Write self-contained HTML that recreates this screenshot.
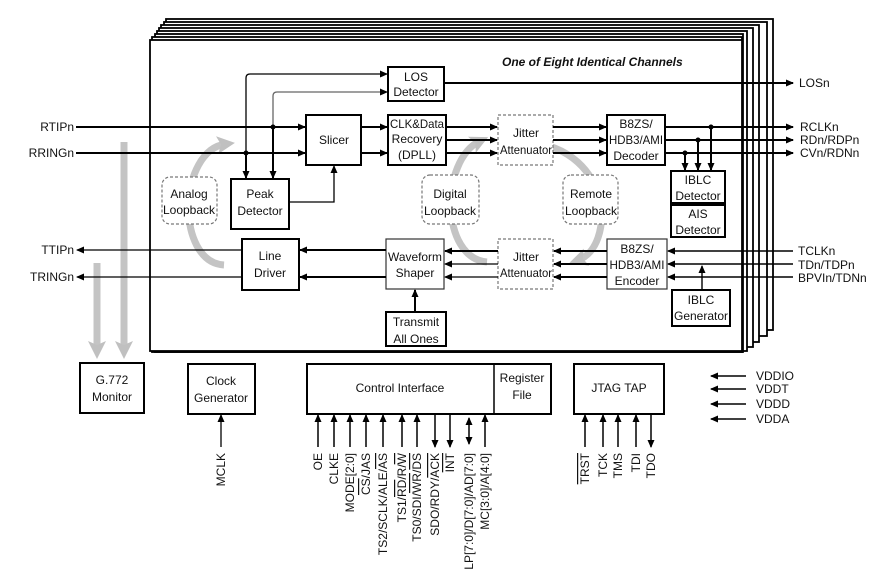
<!DOCTYPE html>
<html><head><meta charset="utf-8"><style>
html,body{margin:0;padding:0;background:#fff;}
svg{display:block;font-family:"Liberation Sans",Arial,sans-serif;}
text{font-size:12px;fill:#111;}
</style></head><body>
<svg width="888" height="569" viewBox="0 0 888 569" xmlns="http://www.w3.org/2000/svg">
<defs>
<marker id="a" markerWidth="8" markerHeight="8" refX="7" refY="4" orient="auto" markerUnits="userSpaceOnUse"><path d="M0,0.5 L8,4 L0,7.5 z" fill="#000"/></marker>
<marker id="g" markerWidth="18" markerHeight="18" refX="9" refY="9" orient="auto" markerUnits="userSpaceOnUse"><path d="M0,0 L18,9 L0,18 L4,9 z" fill="#c0c0c0"/></marker>
<marker id="as" markerWidth="8" markerHeight="8" refX="1" refY="4" orient="auto" markerUnits="userSpaceOnUse"><path d="M8,0.5 L0,4 L8,7.5 z" fill="#000"/></marker>
</defs>
<g fill="#fff" stroke="#000" stroke-width="1.8">
<rect x="166" y="19" width="607" height="311"/>
<rect x="164" y="22" width="603" height="314"/>
<rect x="161" y="25" width="598" height="317"/>
<rect x="159" y="28" width="594" height="319"/>
<rect x="157" y="31" width="590" height="320"/>
<rect x="155" y="34" width="588" height="318"/>
<rect x="152" y="37" width="590" height="315"/>
<rect x="150" y="40" width="592" height="311"/>
</g>
<text x="502" y="66" font-style="italic" font-weight="bold" style="font-size:12px">One of Eight Identical Channels</text>

<g fill="none" stroke="#c4c4c4" stroke-width="7">
<path d="M224,265 C175,262 178,150 226,144" marker-end="url(#g)"/>
<path d="M487,262 C440,258 440,160 480,141" marker-end="url(#g)"/>
<path d="M528,142 C615,150 615,248 578,260" marker-end="url(#g)"/>
<path d="M124,142 L124,350" marker-end="url(#g)"/>
<path d="M97,263 L97,350" marker-end="url(#g)"/>
</g>

<g fill="#fff" stroke="#000" stroke-width="2">
<rect x="388" y="67" width="56" height="34"/>
<rect x="306" y="115" width="55" height="50"/>
<rect x="388" y="115" width="58" height="50"/>
<rect x="231" y="179" width="58" height="50"/>
<rect x="242" y="239" width="57" height="51"/>
<rect x="386" y="312" width="60" height="34"/>
<rect x="607" y="115" width="58" height="50"/>
<rect x="671" y="171" width="54" height="32"/>
<rect x="671" y="205" width="54" height="32"/>
<rect x="672" y="290" width="58" height="36"/>
<rect x="80" y="363" width="64" height="50"/>
<rect x="188" y="364" width="67" height="50"/>
<rect x="307" y="364" width="244" height="50"/>
<rect x="574" y="364" width="90" height="50"/>
</g>
<line x1="494" y1="364" x2="494" y2="414" stroke="#000" stroke-width="1.5"/>
<g fill="#fff" stroke="#333" stroke-width="1.2">
<rect x="386" y="239" width="58" height="50"/>
<rect x="607" y="239" width="60" height="50"/>
</g>
<g fill="#fff" stroke="#777" stroke-width="1.2" stroke-dasharray="3,2">
<rect x="498" y="115" width="55" height="50"/>
<rect x="498" y="239" width="55" height="50"/>
<rect x="162" y="177" width="55" height="47" rx="8"/>
<rect x="422" y="175" width="57" height="49" rx="8"/>
<rect x="563" y="175" width="55" height="49" rx="8"/>
</g>

<g text-anchor="middle">
<text x="416" y="81">LOS</text><text x="416" y="96">Detector</text>
<text x="334" y="144">Slicer</text>
<text x="417" y="128" textLength="54" lengthAdjust="spacingAndGlyphs">CLK&amp;Data</text><text x="417" y="143">Recovery</text><text x="417" y="159">(DPLL)</text>
<text x="260" y="198">Peak</text><text x="260" y="215">Detector</text>
<text x="189" y="198">Analog</text><text x="189" y="214">Loopback</text>
<text x="270" y="260">Line</text><text x="270" y="277">Driver</text>
<text x="415" y="261" textLength="54" lengthAdjust="spacingAndGlyphs">Waveform</text><text x="415" y="277">Shaper</text>
<text x="416" y="326">Transmit</text><text x="416" y="343">All Ones</text>
<text x="526" y="137">Jitter</text><text x="526" y="154" textLength="52" lengthAdjust="spacingAndGlyphs">Attenuator</text>
<text x="526" y="261">Jitter</text><text x="526" y="277" textLength="52" lengthAdjust="spacingAndGlyphs">Attenuator</text>
<text x="450" y="198">Digital</text><text x="450" y="215">Loopback</text>
<text x="591" y="198">Remote</text><text x="591" y="215">Loopback</text>
<text x="636" y="128">B8ZS/</text><text x="636" y="144" textLength="54" lengthAdjust="spacingAndGlyphs">HDB3/AMI</text><text x="636" y="160">Decoder</text>
<text x="637" y="253">B8ZS/</text><text x="637" y="269" textLength="55" lengthAdjust="spacingAndGlyphs">HDB3/AMI</text><text x="637" y="285">Encoder</text>
<text x="698" y="184">IBLC</text><text x="698" y="200">Detector</text>
<text x="698" y="218">AIS</text><text x="698" y="234">Detector</text>
<text x="701" y="304">IBLC</text><text x="701" y="320">Generator</text>
<text x="112" y="384">G.772</text><text x="112" y="401">Monitor</text>
<text x="221" y="385">Clock</text><text x="221" y="402">Generator</text>
<text x="400" y="392">Control Interface</text>
<text x="522" y="382">Register</text><text x="522" y="399">File</text>
<text x="619" y="392">JTAG TAP</text>
</g>

<g text-anchor="end">
<text x="74" y="131">RTIPn</text><text x="74" y="157">RRINGn</text>
<text x="74" y="254">TTIPn</text><text x="74" y="281">TRINGn</text>
</g>
<text x="799" y="87">LOSn</text>
<text x="800" y="131">RCLKn</text><text x="800" y="144">RDn/RDPn</text><text x="800" y="157">CVn/RDNn</text>
<text x="798" y="255">TCLKn</text><text x="798" y="269">TDn/TDPn</text><text x="798" y="282">BPVIn/TDNn</text>
<text x="756" y="380">VDDIO</text><text x="756" y="393">VDDT</text><text x="756" y="408">VDDD</text><text x="756" y="423">VDDA</text>

<g stroke="#000" stroke-width="2" fill="none">
<line x1="76" y1="127" x2="305" y2="127" marker-end="url(#a)"/>
<line x1="76" y1="153" x2="305" y2="153" marker-end="url(#a)"/>
<path d="M246,153 L246,78 Q246,74 250,74 L387,74" stroke-width="1.3" marker-end="url(#a)"/>
<path d="M273,127 L273,96 Q273,92 277,92 L387,92" stroke="#666" stroke-width="1.3" marker-end="url(#a)"/>
<line x1="246" y1="153" x2="246" y2="178" marker-end="url(#a)"/>
<line x1="273" y1="127" x2="273" y2="178" marker-end="url(#a)"/>
<path d="M289,202 L334,202 L334,166" stroke-width="1.3" marker-end="url(#a)"/>
<line x1="361" y1="127" x2="387" y2="127" marker-end="url(#a)"/>
<line x1="361" y1="153" x2="387" y2="153" marker-end="url(#a)"/>
<line x1="444" y1="83" x2="793" y2="83" marker-end="url(#a)"/>
<line x1="446" y1="127" x2="497" y2="127" marker-end="url(#a)"/>
<line x1="446" y1="140" x2="497" y2="140" marker-end="url(#a)"/>
<line x1="446" y1="153" x2="497" y2="153" marker-end="url(#a)"/>
<line x1="553" y1="127" x2="606" y2="127" marker-end="url(#a)"/>
<line x1="553" y1="140" x2="606" y2="140" marker-end="url(#a)"/>
<line x1="553" y1="153" x2="606" y2="153" marker-end="url(#a)"/>
<line x1="665" y1="127" x2="793" y2="127" marker-end="url(#a)"/>
<line x1="665" y1="140" x2="793" y2="140" marker-end="url(#a)"/>
<line x1="665" y1="153" x2="793" y2="153" marker-end="url(#a)"/>
<line x1="711" y1="127" x2="711" y2="170" marker-end="url(#a)"/>
<line x1="698" y1="140" x2="698" y2="170" marker-end="url(#a)"/>
<line x1="685" y1="153" x2="685" y2="170" marker-end="url(#a)"/>
<line x1="793" y1="251" x2="668" y2="251" stroke-width="1.4" marker-end="url(#a)"/>
<line x1="793" y1="264" x2="668" y2="264" stroke-width="1.4" marker-end="url(#a)"/>
<line x1="793" y1="277" x2="668" y2="277" stroke-width="1.4" marker-end="url(#a)"/>
<line x1="702" y1="290" x2="702" y2="266" stroke-width="1.4" marker-end="url(#a)"/>
<line x1="607" y1="251" x2="554" y2="251" marker-end="url(#a)"/>
<line x1="607" y1="264" x2="554" y2="264" marker-end="url(#a)"/>
<line x1="607" y1="277" x2="554" y2="277" marker-end="url(#a)"/>
<line x1="498" y1="251" x2="445" y2="251" marker-end="url(#a)"/>
<line x1="498" y1="264" x2="445" y2="264" stroke-width="1.3" marker-end="url(#a)"/>
<line x1="498" y1="277" x2="445" y2="277" stroke-width="1.3" marker-end="url(#a)"/>
<line x1="386" y1="250" x2="300" y2="250" marker-end="url(#a)"/>
<line x1="386" y1="277" x2="300" y2="277" marker-end="url(#a)"/>
<line x1="242" y1="250" x2="77" y2="250" stroke-width="1.3" marker-end="url(#a)"/>
<line x1="242" y1="277" x2="77" y2="277" stroke-width="1.3" marker-end="url(#a)"/>
<line x1="415" y1="312" x2="415" y2="290" marker-end="url(#a)"/>
<line x1="221" y1="447" x2="221" y2="415" stroke-width="1.3" marker-end="url(#a)"/>
<g stroke-width="1.5">
<line x1="318" y1="447" x2="318" y2="415" marker-end="url(#a)"/>
<line x1="334" y1="447" x2="334" y2="415" marker-end="url(#a)"/>
<line x1="350" y1="447" x2="350" y2="415" marker-end="url(#a)"/>
<line x1="366" y1="447" x2="366" y2="415" marker-end="url(#a)"/>
<line x1="383" y1="447" x2="383" y2="415" marker-end="url(#a)"/>
<line x1="402" y1="447" x2="402" y2="415" marker-end="url(#a)"/>
<line x1="417" y1="447" x2="417" y2="415" marker-end="url(#a)"/>
<line x1="435" y1="415" x2="435" y2="447" marker-end="url(#a)"/>
<line x1="450" y1="415" x2="450" y2="447" marker-end="url(#a)"/>
<line x1="469" y1="418" x2="469" y2="444" marker-start="url(#as)" marker-end="url(#a)"/>
<line x1="485" y1="447" x2="485" y2="415" marker-end="url(#a)"/>
<line x1="585" y1="447" x2="585" y2="415" marker-end="url(#a)"/>
<line x1="603" y1="447" x2="603" y2="415" marker-end="url(#a)"/>
<line x1="618" y1="447" x2="618" y2="415" marker-end="url(#a)"/>
<line x1="636" y1="447" x2="636" y2="415" marker-end="url(#a)"/>
<line x1="651" y1="415" x2="651" y2="447" marker-end="url(#a)"/>
<line x1="746" y1="376" x2="711" y2="376" marker-end="url(#a)"/>
<line x1="746" y1="389" x2="711" y2="389" marker-end="url(#a)"/>
<line x1="746" y1="404" x2="711" y2="404" marker-end="url(#a)"/>
<line x1="746" y1="419" x2="711" y2="419" marker-end="url(#a)"/>
</g>
</g>
<g fill="#000">
<circle cx="246" cy="153" r="2.5"/><circle cx="273" cy="127" r="2.5"/>
<circle cx="711" cy="127" r="2.5"/><circle cx="698" cy="140" r="2.5"/><circle cx="685" cy="153" r="2.5"/>
</g>

<g text-anchor="end" style="font-size:12px">
<text transform="translate(225,453) rotate(-90)">MCLK</text>
<text transform="translate(322,453) rotate(-90)">OE</text>
<text transform="translate(338,453) rotate(-90)">CLKE</text>
<text transform="translate(354,453) rotate(-90)">MODE[2:0]</text>
<text transform="translate(370,453) rotate(-90)"><tspan text-decoration="overline">CS</tspan>/JAS</text>
<text transform="translate(387,453) rotate(-90)">TS2/SCLK/ALE/<tspan text-decoration="overline">AS</tspan></text>
<text transform="translate(406,453) rotate(-90)">TS1/<tspan text-decoration="overline">RD</tspan>/R/<tspan text-decoration="overline">W</tspan></text>
<text transform="translate(421,453) rotate(-90)">TS0/SDI/<tspan text-decoration="overline">WR</tspan>/<tspan text-decoration="overline">DS</tspan></text>
<text transform="translate(439,453) rotate(-90)">SDO/RDY/<tspan text-decoration="overline">ACK</tspan></text>
<text transform="translate(454,453) rotate(-90)"><tspan text-decoration="overline">INT</tspan></text>
<text transform="translate(473,453) rotate(-90)">LP[7:0]/D[7:0]/AD[7:0]</text>
<text transform="translate(489,453) rotate(-90)">MC[3:0]/A[4:0]</text>
<text transform="translate(589,453) rotate(-90)"><tspan text-decoration="overline">TRST</tspan></text>
<text transform="translate(607,453) rotate(-90)">TCK</text>
<text transform="translate(622,453) rotate(-90)">TMS</text>
<text transform="translate(640,453) rotate(-90)">TDI</text>
<text transform="translate(655,453) rotate(-90)">TDO</text>
</g>
</svg>
</body></html>
